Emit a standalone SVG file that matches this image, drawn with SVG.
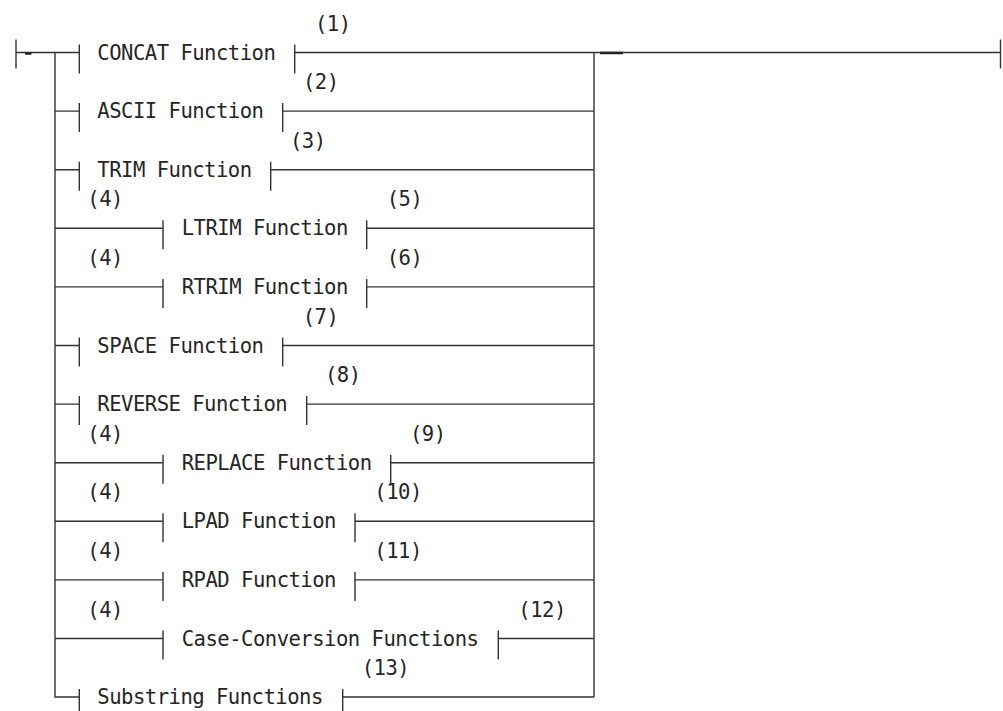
<svg xmlns="http://www.w3.org/2000/svg" width="1003" height="711" viewBox="0 0 1003 711">
<style>
.ln{stroke:#333;stroke-width:1.4;fill:none}
.tk{stroke:#222;stroke-width:2.4;fill:none}
text{font-family:"DejaVu Sans Mono","Liberation Mono",monospace;font-size:20.6px;fill:#262626;letter-spacing:-0.53px}
</style>
<rect width="1003" height="711" fill="#fff"/>
<g id="connectors">
<path class="ln" d="M16,39.5V68.5M16,52.5H79.3M55,52.5V697H79.3M594,52.5V697M594,52.5H1000.5M1000.5,39.5V68.5"/>
<path class="tk" d="M25,53.5H31.5M600,53H623"/>
<path class="ln" d="M55,111.1H79.3M55,169.7H79.3M55,228.3H163M55,286.9H163M55,345.5H79.3M55,404.1H79.3M55,462.7H163M55,521.3H163M55,579.9H163M55,638.5H163"/>
<path class="ln" d="M294.7,52.5H594M282.7,111.1H594M270.7,169.7H594M366.7,228.3H594M366.7,286.9H594M282.7,345.5H594M306.7,404.1H594M390.7,462.7H594M355,521.3H594M355,579.9H594M498.3,638.5H594M342.7,697H594"/>
</g>
<g id="concat"><path class="ln" d="M79.3,44.5V73.5M294.7,44.5V73.5"/><text x="97.3" y="59.5">CONCAT Function</text><text x="315" y="30.5">(1)</text></g>
<g id="ascii"><path class="ln" d="M79.3,103.1V132.1M282.7,103.1V132.1"/><text x="97.3" y="118.1">ASCII Function</text><text x="303" y="89.1">(2)</text></g>
<g id="trim"><path class="ln" d="M79.3,161.7V190.7M270.7,161.7V190.7"/><text x="97.3" y="176.7">TRIM Function</text><text x="290" y="147.7">(3)</text></g>
<g id="ltrim"><path class="ln" d="M163,220.3V249.3M366.7,220.3V249.3"/><text x="181.7" y="235.3">LTRIM Function</text><text x="87.3" y="206.3">(4)</text><text x="386.7" y="206.3">(5)</text></g>
<g id="rtrim"><path class="ln" d="M163,278.9V307.9M366.7,278.9V307.9"/><text x="181.7" y="293.9">RTRIM Function</text><text x="87.3" y="264.9">(4)</text><text x="386.7" y="264.9">(6)</text></g>
<g id="space"><path class="ln" d="M79.3,337.5V366.5M282.7,337.5V366.5"/><text x="97.3" y="352.5">SPACE Function</text><text x="302.7" y="323.5">(7)</text></g>
<g id="reverse"><path class="ln" d="M79.3,396.1V425.1M306.7,396.1V425.1"/><text x="97.3" y="411.1">REVERSE Function</text><text x="325" y="382.1">(8)</text></g>
<g id="replace"><path class="ln" d="M163,454.7V483.7M390.7,454.7V483.7"/><text x="181.7" y="469.7">REPLACE Function</text><text x="87.3" y="440.7">(4)</text><text x="410" y="440.7">(9)</text></g>
<g id="lpad"><path class="ln" d="M163,513.3V542.3M355,513.3V542.3"/><text x="181.7" y="528.3">LPAD Function</text><text x="87.3" y="499.3">(4)</text><text x="374.3" y="499.3">(10)</text></g>
<g id="rpad"><path class="ln" d="M163,571.9V600.9M355,571.9V600.9"/><text x="181.7" y="586.9">RPAD Function</text><text x="87.3" y="557.9">(4)</text><text x="374.3" y="557.9">(11)</text></g>
<g id="caseconv"><path class="ln" d="M163,630.5V659.5M498.3,630.5V659.5"/><text x="181.7" y="645.5">Case-Conversion Functions</text><text x="87.3" y="616.5">(4)</text><text x="518.3" y="616.5">(12)</text></g>
<g id="substring"><path class="ln" d="M79.3,689V718M342.7,689V718"/><text x="97.3" y="704">Substring Functions</text><text x="361.7" y="675">(13)</text></g>
</svg>
